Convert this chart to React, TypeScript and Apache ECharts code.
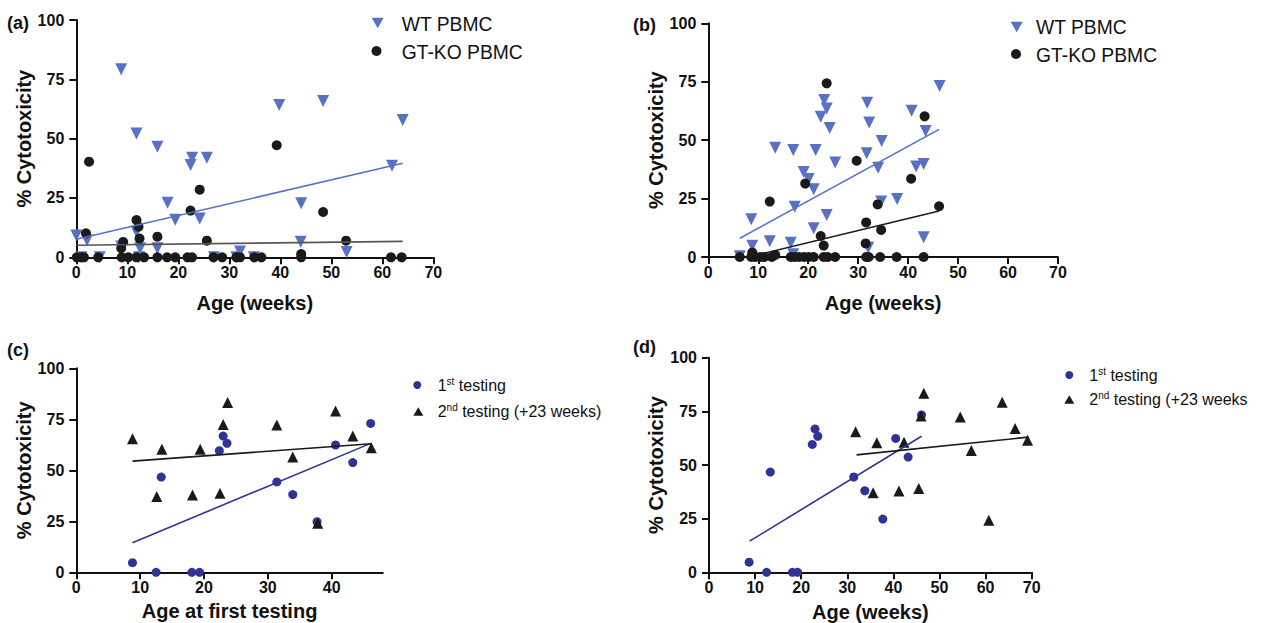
import React, { useEffect, useRef } from "react";
import * as echarts from "echarts";

// ---------- DATA ----------
const yTicks = [0, 25, 50, 75, 100];
const xTicks = [0, 10, 20, 30, 40, 50, 60, 70];
const xTicksC = [0, 10, 20, 30, 40];

// Panel (a)
const aWT = [
  [0.0, 9.2], [2.1, 7.2], [1.0, 0], [4.6, 0], [8.8, 4.5], [8.8, 79.2], [11.8, 52.2], [11.8, 10.8],
  [12.5, 3.8], [12.3, 0], [15.9, 46.6], [15.9, 3.8], [17.9, 23.0], [19.4, 15.8], [22.4, 38.9],
  [22.7, 42.0], [24.2, 16.4], [25.6, 42.0], [27.0, 0], [31.4, 0], [32.1, 2.4], [34.8, 0],
  [39.8, 64.2], [44.1, 22.8], [44.0, 6.6], [48.4, 65.9], [53.0, 2.2], [61.9, 38.6], [64.0, 57.9],
];
const aGTKO = [
  [1.9, 10.1], [2.5, 40.3], [8.8, 3.8], [9.2, 6.5], [11.8, 15.7], [12.2, 12.9], [12.4, 7.9],
  [15.9, 8.7], [22.4, 19.7], [24.2, 28.5], [25.6, 7.0], [39.3, 47.2], [44.1, 1.4], [48.4, 19.1],
  [52.9, 7.0], [0.1, 0], [0.9, 0], [1.5, 0], [4.3, 0], [8.9, 0], [10.2, 0], [11.8, 0], [13.3, 0],
  [15.9, 0], [17.8, 0], [19.4, 0], [21.8, 0], [22.7, 0], [26.9, 0], [28.6, 0], [31.4, 0], [32.1, 0],
  [34.9, 0], [36.3, 0], [44.1, 0], [61.7, 0], [63.8, 0],
];
const aWTFit = [[0, 7.6], [64, 39.6]];
const aGTKOFit = [[0, 5.1], [64, 6.7]];

// Panel (b)
const bWT = [
  [6.3, 0.3], [8.6, 16.1], [8.8, 4.8], [12.3, 6.7], [13.4, 46.8], [16.5, 6.1], [17.0, 1.2],
  [17.0, 45.8], [17.3, 21.5], [19.1, 36.4], [20.1, 33.4], [21.1, 29.0], [21.1, 12.3], [21.5, 45.8],
  [22.5, 60.0], [23.2, 67.2], [23.7, 63.5], [23.7, 18.0], [24.3, 55.2], [25.4, 40.4], [31.7, 44.4],
  [31.8, 66.0], [32.0, 4.0], [32.2, 57.5], [34.0, 38.2], [34.6, 23.7], [34.7, 49.6], [37.8, 24.8],
  [40.7, 62.6], [41.6, 38.7], [43.1, 39.8], [43.1, 8.4], [43.5, 53.9], [46.3, 73.2],
];
const bGTKO = [
  [6.3, 0], [8.6, 0], [8.8, 1.9], [9.4, 0], [10.4, 0], [11.2, 0], [12.3, 23.7], [12.7, 0],
  [13.4, 0.9], [16.5, 0], [17.3, 0], [18.2, 0], [19.2, 0], [19.4, 31.4], [20.1, 0], [21.1, 0],
  [22.5, 9.0], [23.1, 4.9], [23.1, 0], [23.7, 74.3], [23.9, 0], [25.4, 0], [29.7, 41.2],
  [31.5, 5.8], [31.6, 14.8], [31.6, 0], [32.1, 0], [33.9, 22.5], [34.6, 11.6], [34.4, 0],
  [37.7, 0], [40.6, 33.5], [43.1, 0], [43.3, 60.2], [46.2, 21.7],
];
const bWTFit = [[6.3, 8.0], [46.2, 54.6]];
const bGTKOFit = [[10.6, 1.3], [46.2, 19.7]];

// Panel (c)
const cFirst = [
  [8.8, 4.7], [12.5, 0], [13.3, 46.7], [18.1, 0], [19.3, 0], [22.4, 59.6], [23.0, 66.8],
  [23.6, 63.2], [31.4, 44.3], [33.9, 38.1], [37.7, 24.8], [40.6, 62.4], [43.3, 53.8], [46.1, 73.0],
];
const cSecond = [
  [8.8, 65.5], [12.6, 37.1], [13.4, 60.3], [18.2, 37.9], [19.4, 60.3], [22.5, 38.7], [23.0, 72.5],
  [23.7, 83.2], [31.4, 72.2], [33.9, 56.5], [37.8, 24.0], [40.6, 79.1], [43.3, 66.8], [46.2, 61.1],
];
const cFirstFit = [[8.8, 14.5], [46.1, 63.2]];
const cSecondFit = [[8.8, 54.5], [46.2, 63.0]];

// Panel (d)
const dFirst = [
  [8.7, 4.7], [12.5, 0], [13.3, 46.7], [18.1, 0], [19.2, 0], [22.4, 59.6], [23.0, 66.8],
  [23.6, 63.4], [31.4, 44.4], [33.8, 38.0], [37.7, 24.8], [40.5, 62.4], [43.2, 53.7], [46.1, 73.3],
];
const dSecond = [
  [31.8, 65.5], [35.6, 37.1], [36.4, 60.4], [41.2, 37.9], [42.3, 60.6], [45.5, 39.0], [46.0, 72.8],
  [46.6, 83.4], [54.5, 72.4], [56.9, 56.8], [60.7, 24.2], [63.6, 79.2], [66.4, 67.0], [69.1, 61.5],
];
const dFirstFit = [[8.8, 14.5], [46.1, 63.4]];
const dSecondFit = [[32.0, 54.7], [69.3, 63.0]];

// ---------- STYLE ----------
const FONT = "'Liberation Sans', Arial, Helvetica, sans-serif";
const WT_BLUE = "#5871c2";
const DARK_BLUE = "#2f3494";
const BLACK = "#1a1a1a";

const grids = [
  { left: 76.3, top: 20, width: 357, height: 237.3 },
  { left: 708.3, top: 23.3, width: 349.7, height: 233.7 },
  { left: 76.3, top: 368.3, width: 306.5, height: 204 },
  { left: 709, top: 357.7, width: 322.7, height: 214.6 },
];

function xAxisDef(gi: number, max: number, ticks: number[], name: string, gap: number) {
  return {
    type: "value",
    gridIndex: gi,
    min: 0,
    max,
    interval: 10,
    name,
    nameLocation: "middle",
    nameGap: gap,
    nameTextStyle: { fontFamily: FONT, fontWeight: "bold", fontSize: 20, color: "#111" },
    axisLine: { show: true, onZero: false, lineStyle: { color: "#111", width: 2 } },
    axisTick: { show: true, length: 7, inside: false, customValues: ticks, lineStyle: { color: "#111", width: 2 } },
    axisLabel: { margin: 7, customValues: ticks, fontFamily: FONT, fontWeight: "bold", fontSize: 16, color: "#111" },
    splitLine: { show: false },
  };
}

function yAxisDef(gi: number, gap: number) {
  return {
    type: "value",
    gridIndex: gi,
    min: 0,
    max: 100,
    interval: 25,
    name: "% Cytotoxicity",
    nameLocation: "middle",
    nameGap: gap,
    nameRotate: 90,
    nameTextStyle: { fontFamily: FONT, fontWeight: "bold", fontSize: 20, color: "#111" },
    axisLine: { show: true, onZero: false, lineStyle: { color: "#111", width: 2 } },
    axisTick: { show: true, length: 7, inside: false, customValues: yTicks, lineStyle: { color: "#111", width: 2 } },
    axisLabel: { margin: 12, customValues: yTicks, fontFamily: FONT, fontWeight: "bold", fontSize: 16, color: "#111" },
    splitLine: { show: false },
  };
}

function scatter(name: string, gi: number, data: number[][], symbol: string, size: number, color: string, rotate = 0) {
  return {
    type: "scatter",
    name,
    xAxisIndex: gi,
    yAxisIndex: gi,
    data,
    symbol,
    symbolSize: size,
    symbolRotate: rotate,
    itemStyle: { color, opacity: 1 },
    silent: true,
  };
}

function fit(name: string, gi: number, data: number[][], color: string) {
  return {
    type: "line",
    name,
    xAxisIndex: gi,
    yAxisIndex: gi,
    data,
    symbol: "none",
    lineStyle: { color, width: 1.6 },
    silent: true,
    z: 3,
  };
}

function panelLabel(text: string, x: number, y: number) {
  return {
    type: "text",
    x,
    y,
    style: { text, fontFamily: FONT, fontWeight: "bold", fontSize: 18, fill: "#111", textVerticalAlign: "middle" },
  };
}

function legendText(text: string, x: number, y: number, rich?: any, size = 19.3) {
  return {
    type: "text",
    x,
    y,
    style: {
      text,
      fontFamily: FONT,
      fontSize: size,
      fill: "#111",
      textVerticalAlign: "middle",
      rich,
    },
  };
}

function downTri(cx: number, cy: number, s: number, color: string) {
  return {
    type: "polygon",
    shape: { points: [[cx - s / 2, cy - s * 0.43], [cx + s / 2, cy - s * 0.43], [cx, cy + s * 0.43]] },
    style: { fill: color },
  };
}
function upTri(cx: number, cy: number, s: number, color: string) {
  return {
    type: "polygon",
    shape: { points: [[cx - s / 2, cy + s * 0.43], [cx + s / 2, cy + s * 0.43], [cx, cy - s * 0.43]] },
    style: { fill: color },
  };
}
function dot(cx: number, cy: number, r: number, color: string) {
  return { type: "circle", shape: { cx, cy, r }, style: { fill: color } };
}

const supRich = {
  n: { fontFamily: FONT, fontSize: 16, fill: "#111", lineHeight: 18 },
  s: { fontFamily: FONT, fontSize: 10, fill: "#111", verticalAlign: "top", lineHeight: 18 },
};

export default function App() {
  const ref = useRef<HTMLDivElement>(null);
  useEffect(() => {
    if (!ref.current) return;
    const chart = echarts.init(ref.current, null, { renderer: "svg" });
    chart.setOption({
      animation: false,
      backgroundColor: "#ffffff",
      grid: grids.map((g) => ({ ...g, containLabel: false, outerBoundsMode: "none" })),
      xAxis: [
        xAxisDef(0, 70, xTicks, "Age (weeks)", 36),
        xAxisDef(1, 70, xTicks, "Age (weeks)", 36),
        xAxisDef(2, 48, xTicksC, "Age at first testing", 29),
        xAxisDef(3, 70, xTicks, "Age (weeks)", 30),
      ],
      yAxis: [yAxisDef(0, 40), yAxisDef(1, 42), yAxisDef(2, 40), yAxisDef(3, 42)],
      series: [
        scatter("WT PBMC", 0, aWT, "triangle", 12, WT_BLUE, 180),
        scatter("GT-KO PBMC", 0, aGTKO, "circle", 10, BLACK),
        fit("WT PBMC fit", 0, aWTFit, WT_BLUE),
        fit("GT-KO PBMC fit", 0, aGTKOFit, "#555555"),
        scatter("WT PBMC", 1, bWT, "triangle", 12, WT_BLUE, 180),
        scatter("GT-KO PBMC", 1, bGTKO, "circle", 10, BLACK),
        fit("WT PBMC fit", 1, bWTFit, WT_BLUE),
        fit("GT-KO PBMC fit", 1, bGTKOFit, BLACK),
        scatter("1st testing", 2, cFirst, "circle", 9, DARK_BLUE),
        scatter("2nd testing (+23 weeks)", 2, cSecond, "triangle", 11, BLACK),
        fit("1st testing fit", 2, cFirstFit, DARK_BLUE),
        fit("2nd testing fit", 2, cSecondFit, BLACK),
        scatter("1st testing", 3, dFirst, "circle", 9, DARK_BLUE),
        scatter("2nd testing (+23 weeks", 3, dSecond, "triangle", 11, BLACK),
        fit("1st testing fit", 3, dFirstFit, DARK_BLUE),
        fit("2nd testing fit", 3, dSecondFit, BLACK),
      ],
      graphic: [
        panelLabel("(a)", 7, 23),
        panelLabel("(b)", 633, 25),
        panelLabel("(c)", 7, 350),
        panelLabel("(d)", 633, 347),
        downTri(377.7, 23, 12, WT_BLUE),
        legendText("WT PBMC", 401.7, 24),
        dot(376.5, 51, 5, BLACK),
        legendText("GT-KO PBMC", 401.7, 52),
        downTri(1016.7, 27, 12, WT_BLUE),
        legendText("WT PBMC", 1036, 27),
        dot(1016, 54, 5, BLACK),
        legendText("GT-KO PBMC", 1036, 55),
        dot(417.3, 385, 4, DARK_BLUE),
        legendText("{n|1}{s|st}{n| testing}", 437.7, 385, supRich, 16),
        upTri(418.3, 411.5, 10, BLACK),
        legendText("{n|2}{s|nd}{n| testing (+23 weeks)}", 437.7, 411, supRich, 16),
        dot(1069.3, 375, 4, DARK_BLUE),
        legendText("{n|1}{s|st}{n| testing}", 1089.3, 375, supRich, 16),
        upTri(1069.3, 399.5, 10, BLACK),
        legendText("{n|2}{s|nd}{n| testing (+23 weeks}", 1089.3, 399, supRich, 16),
      ],
    });
    return () => chart.dispose();
  }, []);
  return (
    <div
      ref={ref}
      style={{ position: "absolute", left: 0, top: 0, width: 1269, height: 623, background: "#fff" }}
    />
  );
}
